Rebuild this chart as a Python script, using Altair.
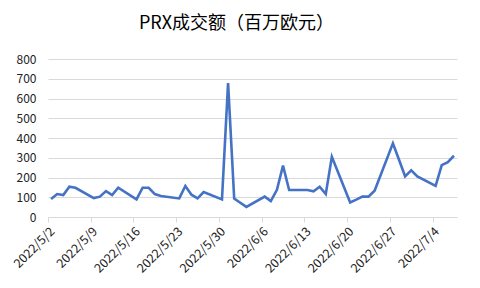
import altair as alt
import pandas as pd

dates = [
    "2022-05-02", "2022-05-03", "2022-05-04", "2022-05-05", "2022-05-06",
    "2022-05-09", "2022-05-10", "2022-05-11", "2022-05-12", "2022-05-13",
    "2022-05-16", "2022-05-17", "2022-05-18", "2022-05-19", "2022-05-20",
    "2022-05-23", "2022-05-24", "2022-05-25", "2022-05-26", "2022-05-27",
    "2022-05-30", "2022-05-31", "2022-06-01", "2022-06-02", "2022-06-03",
    "2022-06-06", "2022-06-07", "2022-06-08", "2022-06-09", "2022-06-10",
    "2022-06-13", "2022-06-14", "2022-06-15", "2022-06-16", "2022-06-17",
    "2022-06-20", "2022-06-21", "2022-06-22", "2022-06-23", "2022-06-24",
    "2022-06-27", "2022-06-28", "2022-06-29", "2022-06-30", "2022-07-01",
    "2022-07-04", "2022-07-05", "2022-07-06", "2022-07-07",
]
values = [
    91, 116, 111, 153, 148,
    96, 103, 131, 111, 148,
    89, 148, 148, 116, 106,
    94, 157, 113, 94, 126,
    89, 678, 94, 72, 51,
    103, 81, 138, 260, 137,
    137, 130, 153, 116, 305,
    74, 88, 103, 103, 133,
    373, 290, 206, 236, 206,
    158, 263, 278, 310,
]
tick_dates = [
    "2022-05-02", "2022-05-09", "2022-05-16", "2022-05-23", "2022-05-30",
    "2022-06-06", "2022-06-13", "2022-06-20", "2022-06-27", "2022-07-04",
]
y_ticks = [0, 100, 200, 300, 400, 500, 600, 700, 800]
title_text = "PRX成交额（百万欧元）"

df = pd.DataFrame({"date": [d + "T12:00:00Z" for d in dates], "value": values})

font = "Noto Sans CJK SC"

chart = (
    alt.Chart(df)
    .mark_line(color="#4472C4", strokeWidth=2.6, strokeJoin="miter", strokeCap="butt")
    .encode(
        x=alt.X(
            "date:T",
            scale=alt.Scale(
                type="utc",
                domain=["2022-05-02T00:00:00Z", "2022-07-08T00:00:00Z"],
                nice=False,
            ),
            axis=alt.Axis(
                values=[d + "T00:00:00Z" for d in tick_dates],
                labelExpr="utcFormat(datum.value, '%Y/%-m/%-d')",
                labelAngle=-45,
                labelAlign="right",
                labelBaseline="middle",
                labelFontSize=12.5,
                labelColor="#222222",
                labelFont=font,
                labelPadding=7,
                labelOffset=4,
                labelOverlap=False,
                labelBound=False,
                grid=False,
                domainColor="#d9d9d9",
                tickColor="#d9d9d9",
                tickSize=5,
                title=None,
            ),
        ),
        y=alt.Y(
            "value:Q",
            scale=alt.Scale(domain=[0, 800], nice=False),
            axis=alt.Axis(
                values=y_ticks,
                labelFontSize=12,
                labelColor="#222222",
                labelFont=font,
                labelPadding=12,
                domain=False,
                ticks=False,
                gridColor="#d9d9d9",
                gridWidth=1,
                title=None,
            ),
        ),
    )
    .properties(
        width=409,
        height=158,
        title=alt.TitleParams(
            text=title_text,
            font=font,
            fontSize=18,
            fontWeight="normal",
            color="#000000",
            anchor="middle",
            offset=20,
            dx=-16,
        ),
        autosize=alt.AutoSizeParams(type="none"),
        padding={"left": 48, "top": 59, "right": 23, "bottom": 71},
    )
    .configure_view(stroke=None)
)

chart.save("out.html", embed_options={"renderer": "svg", "actions": False})
